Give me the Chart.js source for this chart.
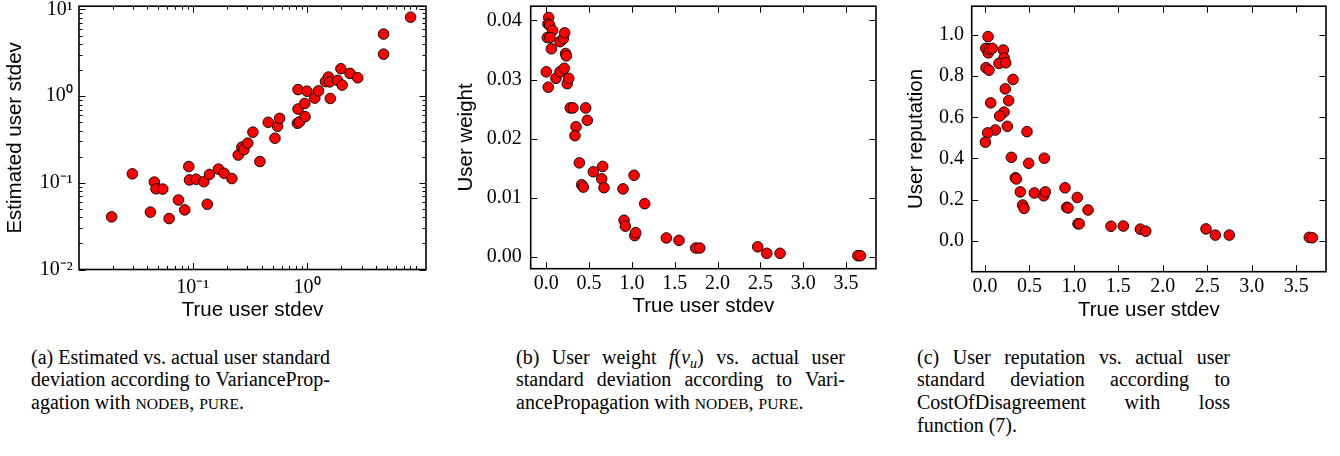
<!DOCTYPE html>
<html>
<head>
<meta charset="utf-8">
<script src="https://cdn.jsdelivr.net/npm/chart.js@4.4.1/dist/chart.umd.min.js"></script>
<style>
  body { margin: 0; background: #fff; width: 1340px; height: 456px; overflow: hidden; position: relative; }
  canvas { position: absolute; top: 0; }
  .cap { position: absolute; font-family: "Liberation Serif", "Times New Roman", serif; font-size: 20px; line-height: 22.7px; color: #000; }
  .cap .j { display: flex; justify-content: space-between; column-gap: 0.17em; white-space: nowrap; }
  .cap .l { white-space: nowrap; }
  .sc { font-size: 0.78em; }
  .cap sub { font-size: 0.7em; vertical-align: -0.25em; line-height: 0; font-style: italic; }
</style>
</head>
<body>
<canvas id="chartA" width="440" height="330" style="left:0px"></canvas>
<canvas id="chartB" width="445" height="330" style="left:440px"></canvas>
<canvas id="chartC" width="455" height="330" style="left:885px"></canvas>

<div class="cap" style="left:31px; top:345.6px; width:299px">
  <div class="j"><span>(a)</span><span>Estimated</span><span>vs.</span><span>actual</span><span>user</span><span>standard</span></div>
  <div class="j"><span>deviation</span><span>according</span><span>to</span><span>VarianceProp-</span></div>
  <div class="l">agation with <span class="sc">NODEB</span>, <span class="sc">PURE</span>.</div>
</div>
<div class="cap" style="left:516px; top:345.6px; width:329px">
  <div class="j"><span>(b)</span><span>User</span><span>weight</span><span><i>f</i>(<i>v</i><sub>u</sub>)</span><span>vs.</span><span>actual</span><span>user</span></div>
  <div class="j"><span>standard</span><span>deviation</span><span>according</span><span>to</span><span>Vari-</span></div>
  <div class="l">ancePropagation with <span class="sc">NODEB</span>, <span class="sc">PURE</span>.</div>
</div>
<div class="cap" style="left:917px; top:345.6px; width:313px">
  <div class="j"><span>(c)</span><span>User</span><span>reputation</span><span>vs.</span><span>actual</span><span>user</span></div>
  <div class="j"><span>standard</span><span>deviation</span><span>according</span><span>to</span></div>
  <div class="j"><span>CostOfDisagreement</span><span>with</span><span>loss</span></div>
  <div class="l">function (7).</div>
</div>

<script>
// (a) estimated vs true stdev, log-log
const aTrue = [0.0195, 0.0296, 0.0426, 0.0461, 0.0477, 0.0546, 0.0621, 0.0749, 0.0851, 0.0923,
  0.0936, 0.107, 0.125, 0.134, 0.140, 0.168, 0.188, 0.220, 0.250, 0.269,
  0.280, 0.303, 0.336, 0.387, 0.458, 0.524, 0.553, 0.576, 0.824, 0.858,
  0.834, 0.834, 0.955, 0.961, 1.00, 1.17, 1.26, 1.45, 1.54, 1.58,
  1.60, 1.85, 1.98, 2.03, 2.38, 2.78, 4.68, 4.68, 8.07];
const aEstimated = [0.0405, 0.127, 0.0459, 0.102, 0.0853, 0.0847, 0.0387, 0.0634, 0.0487, 0.154,
  0.108, 0.110, 0.103, 0.0566, 0.125, 0.144, 0.129, 0.112, 0.209, 0.258,
  0.241, 0.287, 0.384, 0.176, 0.499, 0.327, 0.449, 0.554, 0.486, 0.504,
  0.710, 1.19, 0.823, 0.580, 1.14, 0.949, 1.15, 1.47, 1.66, 1.46,
  0.94, 1.52, 2.07, 1.34, 1.83, 1.63, 5.20, 3.05, 8.14];
const aXTicks = [0.1, 1];
const aYTicks = [0.01, 0.1, 1, 10];

// (b) user weight vs true stdev
const bTrue = [0.028, 0.020, 0.039, 0.074, 0.012, 0.043, 0.059, 0.160, 0.199, 0.215,
  0.226, 0.234, 0.0, 0.023, 0.113, 0.160, 0.210, 0.245, 0.262, 0.280,
  0.312, 0.460, 0.479, 0.347, 0.335, 0.386, 0.413, 0.432, 0.549, 0.659,
  0.647, 0.674, 0.896, 1.025, 1.149, 0.908, 0.923, 1.033, 1.044, 1.402,
  1.550, 1.745, 1.792, 2.469, 2.575, 2.730, 3.638, 3.668];
const bWeight = [0.0405, 0.0394, 0.0392, 0.0383, 0.0371, 0.0371, 0.0352, 0.0364, 0.0369, 0.0379,
  0.0344, 0.0340, 0.0313, 0.0287, 0.0302, 0.0313, 0.0319, 0.0293, 0.0302, 0.0252,
  0.0252, 0.0252, 0.0231, 0.0220, 0.0205, 0.0159, 0.0122, 0.0118, 0.0144, 0.0153,
  0.0132, 0.0117, 0.0115, 0.0138, 0.0090, 0.0062, 0.0052, 0.0036, 0.0041, 0.0032,
  0.0028, 0.0015, 0.0015, 0.0017, 0.0006, 0.0006, 0.0002, 0.0002];
const bXTicks = [0, 0.5, 1, 1.5, 2, 2.5, 3, 3.5];
const bYTicks = [0, 0.01, 0.02, 0.03, 0.04];

// (c) user reputation vs true stdev
const cTrue = [0.034, 0.008, 0.037, 0.049, 0.082, 0.206, 0.214, 0.157, 0.233, 0.011,
  0.045, 0.315, 0.228, 0.266, 0.064, 0.214, 0.165, 0.251, 0.116, 0.030,
  0.004, 0.472, 0.296, 0.491, 0.667, 0.341, 0.352, 0.397, 0.424, 0.439,
  0.555, 0.660, 0.678, 0.900, 1.038, 1.159, 0.919, 0.934, 1.046, 1.060,
  1.417, 1.556, 1.747, 1.808, 2.486, 2.591, 2.748, 3.648, 3.682];
const cReputation = [0.992, 0.935, 0.913, 0.932, 0.935, 0.927, 0.889, 0.862, 0.865, 0.841,
  0.829, 0.784, 0.738, 0.681, 0.670, 0.625, 0.606, 0.556, 0.538, 0.524,
  0.479, 0.530, 0.405, 0.376, 0.401, 0.306, 0.300, 0.237, 0.173, 0.157,
  0.232, 0.218, 0.237, 0.257, 0.210, 0.149, 0.162, 0.159, 0.082, 0.082,
  0.070, 0.071, 0.056, 0.046, 0.057, 0.027, 0.027, 0.016, 0.014];
const cXTicks = [0, 0.5, 1, 1.5, 2, 2.5, 3, 3.5];
const cYTicks = [0, 0.2, 0.4, 0.6, 0.8, 1.0];

const tickFont = { family: '"Liberation Serif", "Times New Roman", serif', size: 20, lineHeight: 1.2 };
const titleFont = { family: '"Liberation Sans", Arial, sans-serif', size: 20.5, lineHeight: 1.2 };

const SUP = { '-': '\u207B', '0': '\u2070', '1': '\u00B9', '2': '\u00B2', '3': '\u00B3' };
function logLabel(v) {
    const e = String(Math.round(Math.log10(v)));
    return '10' + e.split('').map(c => SUP[c]).join('');
}

// matplotlib style frame with inward ticks on all four sides
const frameTicks = {
    id: 'frameTicks',
    afterDatasetsDraw(chart) {
        const { ctx, chartArea: a, scales: { x, y } } = chart;
        const major = 6.5, minor = 3.5;
        ctx.save();
        ctx.strokeStyle = '#000';
        ctx.lineWidth = 1;
        ctx.beginPath();
        const xTick = (v, len) => {
            const p = Math.round(x.getPixelForValue(v)) + 0.5;
            ctx.moveTo(p, a.bottom); ctx.lineTo(p, a.bottom - len);
            ctx.moveTo(p, a.top); ctx.lineTo(p, a.top + len);
        };
        const yTick = (v, len) => {
            const p = Math.round(y.getPixelForValue(v)) + 0.5;
            ctx.moveTo(a.left, p); ctx.lineTo(a.left + len, p);
            ctx.moveTo(a.right, p); ctx.lineTo(a.right - len, p);
        };
        x.ticks.forEach(t => xTick(t.value, major));
        y.ticks.forEach(t => yTick(t.value, major));
        [[x, xTick], [y, yTick]].forEach(([s, fn]) => {
            if (s.type !== 'logarithmic') return;
            for (let k = Math.floor(Math.log10(s.min)); k <= Math.ceil(Math.log10(s.max)); k++) {
                for (let m = 2; m <= 9; m++) {
                    const v = m * Math.pow(10, k);
                    if (v > s.min && v < s.max) fn(v, minor);
                }
            }
        });
        ctx.stroke();
        ctx.lineWidth = 1.6;
        ctx.strokeRect(a.left, a.top, a.right - a.left, a.bottom - a.top);
        ctx.restore();
    }
};

function makeAxis(cfg) {
    return {
        type: cfg.type || 'linear',
        min: cfg.min,
        max: cfg.max,
        grid: { display: false, drawTicks: false },
        border: { display: false },
        afterBuildTicks: s => { s.ticks = cfg.ticks.map(v => ({ value: v })); },
        afterFit: s => {
            if (cfg.width !== undefined) s.width = cfg.width;
            if (cfg.height !== undefined) s.height = cfg.height;
            s.paddingTop = 0; s.paddingBottom = 0; s.paddingLeft = 0; s.paddingRight = 0;
        },
        ticks: {
            font: tickFont,
            color: '#000',
            padding: cfg.pad,
            maxRotation: 0,
            autoSkip: false,
            callback: cfg.label
        },
        title: cfg.title ? {
            display: true,
            text: cfg.title,
            font: titleFont,
            color: '#000',
            padding: cfg.titlePad
        } : { display: false }
    };
}

function scatterChart(id, xs, ys, xAxis, yAxis, padding) {
    const data = xs.map((v, i) => ({ x: v, y: ys[i] }));
    return new Chart(document.getElementById(id), {
        type: 'scatter',
        data: {
            datasets: [{
                data: data,
                backgroundColor: '#ff0000',
                borderColor: '#000000',
                borderWidth: 0.9,
                pointRadius: 5.3,
                pointHoverRadius: 5.3
            }]
        },
        options: {
            responsive: false,
            animation: false,
            devicePixelRatio: 1,
            layout: { padding: padding },
            plugins: { legend: { display: false }, tooltip: { enabled: false } },
            scales: { x: makeAxis(xAxis), y: makeAxis(yAxis) }
        },
        plugins: [frameTicks]
    });
}

const fixed1 = v => v.toFixed(1);
const fixed2 = v => v.toFixed(2);

scatterChart('chartA', aTrue, aEstimated,
    { type: 'logarithmic', min: 0.0101, max: 11, ticks: aXTicks, label: logLabel, pad: 6.5,
      height: 60.5, title: 'True user stdev', titlePad: { bottom: 7.7 } },
    { type: 'logarithmic', min: 0.01, max: 10.9, ticks: aYTicks, label: logLabel, pad: 6.3,
      width: 79, title: 'Estimated user stdev', titlePad: { top: 2.7 } },
    { left: 0, top: 4.7, right: 14, bottom: 0 });

scatterChart('chartB', bTrue, bWeight,
    { min: -0.182, max: 3.85, ticks: bXTicks, label: fixed1, pad: 3,
      height: 61.3, title: 'True user stdev', titlePad: { bottom: 11 } },
    { min: -0.0020, max: 0.0424, ticks: bYTicks, label: fixed2, pad: 9,
      width: 90.7, title: 'User weight', titlePad: { top: 13.9 } },
    { left: 0, top: 4, right: 9, bottom: 0 });

scatterChart('chartC', cTrue, cReputation,
    { min: -0.150, max: 3.836, ticks: cXTicks, label: fixed1, pad: 3,
      height: 58.3, title: 'True user stdev', titlePad: { bottom: 7.7 } },
    { min: -0.151, max: 1.14, ticks: cYTicks, label: fixed1, pad: 7.7,
      width: 86.7, title: 'User reputation', titlePad: { top: 18.9 } },
    { left: 0, top: 1, right: 14, bottom: 0 });
</script>
</body>
</html>
